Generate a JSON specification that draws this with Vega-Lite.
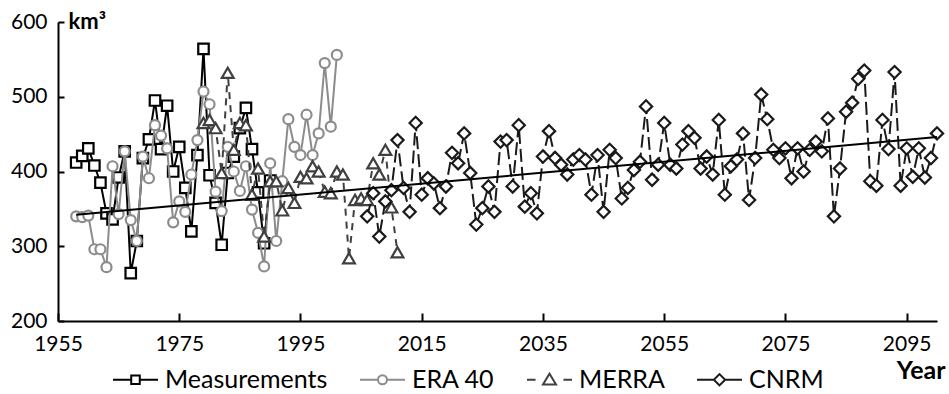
{
"$schema": "https://vega.github.io/schema/vega-lite/v6.json",
"width": 879, "height": 299,
"autosize": {"type": "none"},
"padding": {"left": 58, "top": 22, "right": 12, "bottom": 73},
"background": "white",
"config": {
 "view": {"stroke": null},
 "font": "Lato",
 "axis": {"grid": false, "domainColor": "black", "domainWidth": 2, "tickColor": "black", "tickWidth": 2, "labelColor": "black", "labelFont": "Lato", "labelFontSize": 21, "titleColor": "black", "titleFont": "Lato", "titleFontSize": 22, "titleFontWeight": "bold"}
},
"datasets": {
 "obs": [
  {"series":"Measurements","year":1958,"value":412},{"series":"Measurements","year":1959,"value":421},{"series":"Measurements","year":1960,"value":431},{"series":"Measurements","year":1961,"value":408},{"series":"Measurements","year":1962,"value":385},{"series":"Measurements","year":1963,"value":344},{"series":"Measurements","year":1964,"value":336},{"series":"Measurements","year":1965,"value":392},{"series":"Measurements","year":1966,"value":427},{"series":"Measurements","year":1967,"value":264},{"series":"Measurements","year":1968,"value":307},{"series":"Measurements","year":1969,"value":418},{"series":"Measurements","year":1970,"value":443},{"series":"Measurements","year":1971,"value":495},{"series":"Measurements","year":1972,"value":430},{"series":"Measurements","year":1973,"value":488},{"series":"Measurements","year":1974,"value":400},{"series":"Measurements","year":1975,"value":433},{"series":"Measurements","year":1976,"value":378},{"series":"Measurements","year":1977,"value":320},{"series":"Measurements","year":1978,"value":422},{"series":"Measurements","year":1979,"value":564},{"series":"Measurements","year":1980,"value":395},{"series":"Measurements","year":1981,"value":358},{"series":"Measurements","year":1982,"value":302},{"series":"Measurements","year":1983,"value":398},{"series":"Measurements","year":1984,"value":420},{"series":"Measurements","year":1985,"value":458},{"series":"Measurements","year":1986,"value":485},{"series":"Measurements","year":1987,"value":430},{"series":"Measurements","year":1988,"value":372},{"series":"Measurements","year":1989,"value":304},{"series":"Measurements","year":1990,"value":388},
  {"series":"ERA 40","year":1958,"value":340},{"series":"ERA 40","year":1959,"value":339},{"series":"ERA 40","year":1960,"value":341},{"series":"ERA 40","year":1961,"value":296},{"series":"ERA 40","year":1962,"value":296},{"series":"ERA 40","year":1963,"value":272},{"series":"ERA 40","year":1964,"value":407},{"series":"ERA 40","year":1965,"value":343},{"series":"ERA 40","year":1966,"value":427},{"series":"ERA 40","year":1967,"value":335},{"series":"ERA 40","year":1968,"value":307},{"series":"ERA 40","year":1969,"value":420},{"series":"ERA 40","year":1970,"value":391},{"series":"ERA 40","year":1971,"value":462},{"series":"ERA 40","year":1972,"value":448},{"series":"ERA 40","year":1973,"value":431},{"series":"ERA 40","year":1974,"value":332},{"series":"ERA 40","year":1975,"value":360},{"series":"ERA 40","year":1976,"value":346},{"series":"ERA 40","year":1977,"value":396},{"series":"ERA 40","year":1978,"value":442},{"series":"ERA 40","year":1979,"value":507},{"series":"ERA 40","year":1980,"value":490},{"series":"ERA 40","year":1981,"value":373},{"series":"ERA 40","year":1982,"value":347},{"series":"ERA 40","year":1983,"value":433},{"series":"ERA 40","year":1984,"value":400},{"series":"ERA 40","year":1985,"value":374},{"series":"ERA 40","year":1986,"value":407},{"series":"ERA 40","year":1987,"value":349},{"series":"ERA 40","year":1988,"value":318},{"series":"ERA 40","year":1989,"value":273},{"series":"ERA 40","year":1990,"value":411},{"series":"ERA 40","year":1991,"value":307},{"series":"ERA 40","year":1992,"value":387},{"series":"ERA 40","year":1993,"value":470},{"series":"ERA 40","year":1994,"value":433},{"series":"ERA 40","year":1995,"value":422},{"series":"ERA 40","year":1996,"value":476},{"series":"ERA 40","year":1997,"value":422},{"series":"ERA 40","year":1998,"value":451},{"series":"ERA 40","year":1999,"value":545},{"series":"ERA 40","year":2000,"value":460},{"series":"ERA 40","year":2001,"value":556},
  {"series":"MERRA","year":1979,"value":465},{"series":"MERRA","year":1980,"value":469},{"series":"MERRA","year":1981,"value":458},{"series":"MERRA","year":1982,"value":398},{"series":"MERRA","year":1983,"value":532},{"series":"MERRA","year":1984,"value":429},{"series":"MERRA","year":1985,"value":465},{"series":"MERRA","year":1986,"value":462},{"series":"MERRA","year":1987,"value":369},{"series":"MERRA","year":1988,"value":404},{"series":"MERRA","year":1989,"value":313},{"series":"MERRA","year":1990,"value":387},{"series":"MERRA","year":1991,"value":387},{"series":"MERRA","year":1992,"value":348},{"series":"MERRA","year":1993,"value":378},{"series":"MERRA","year":1994,"value":358},{"series":"MERRA","year":1995,"value":393},{"series":"MERRA","year":1996,"value":391},{"series":"MERRA","year":1997,"value":407},{"series":"MERRA","year":1998,"value":400},{"series":"MERRA","year":1999,"value":373},{"series":"MERRA","year":2000,"value":371},{"series":"MERRA","year":2001,"value":400},{"series":"MERRA","year":2002,"value":396},{"series":"MERRA","year":2003,"value":284},{"series":"MERRA","year":2004,"value":362},{"series":"MERRA","year":2005,"value":364},{"series":"MERRA","year":2006,"value":362},{"series":"MERRA","year":2007,"value":411},{"series":"MERRA","year":2008,"value":396},{"series":"MERRA","year":2009,"value":429},{"series":"MERRA","year":2010,"value":352},{"series":"MERRA","year":2011,"value":292},
  {"series":"CNRM","year":2006,"value":340},{"series":"CNRM","year":2007,"value":371},{"series":"CNRM","year":2008,"value":313},{"series":"CNRM","year":2009,"value":360},{"series":"CNRM","year":2010,"value":375},{"series":"CNRM","year":2011,"value":442},{"series":"CNRM","year":2012,"value":378},{"series":"CNRM","year":2013,"value":346},{"series":"CNRM","year":2014,"value":465},{"series":"CNRM","year":2015,"value":369},{"series":"CNRM","year":2016,"value":391},{"series":"CNRM","year":2017,"value":384},{"series":"CNRM","year":2018,"value":351},{"series":"CNRM","year":2019,"value":380},{"series":"CNRM","year":2020,"value":425},{"series":"CNRM","year":2021,"value":411},{"series":"CNRM","year":2022,"value":451},{"series":"CNRM","year":2023,"value":398},{"series":"CNRM","year":2024,"value":329},{"series":"CNRM","year":2025,"value":351},{"series":"CNRM","year":2026,"value":380},{"series":"CNRM","year":2027,"value":346},{"series":"CNRM","year":2028,"value":440},{"series":"CNRM","year":2029,"value":442},{"series":"CNRM","year":2030,"value":380},{"series":"CNRM","year":2031,"value":462},{"series":"CNRM","year":2032,"value":353},{"series":"CNRM","year":2033,"value":371},{"series":"CNRM","year":2034,"value":344},{"series":"CNRM","year":2035,"value":420},{"series":"CNRM","year":2036,"value":454},{"series":"CNRM","year":2037,"value":418},{"series":"CNRM","year":2038,"value":409},{"series":"CNRM","year":2039,"value":396},{"series":"CNRM","year":2040,"value":416},{"series":"CNRM","year":2041,"value":422},{"series":"CNRM","year":2042,"value":416},{"series":"CNRM","year":2043,"value":369},{"series":"CNRM","year":2044,"value":422},{"series":"CNRM","year":2045,"value":346},{"series":"CNRM","year":2046,"value":429},{"series":"CNRM","year":2047,"value":418},{"series":"CNRM","year":2048,"value":364},{"series":"CNRM","year":2049,"value":378},{"series":"CNRM","year":2050,"value":402},{"series":"CNRM","year":2051,"value":413},{"series":"CNRM","year":2052,"value":487},{"series":"CNRM","year":2053,"value":389},{"series":"CNRM","year":2054,"value":409},{"series":"CNRM","year":2055,"value":465},{"series":"CNRM","year":2056,"value":409},{"series":"CNRM","year":2057,"value":404},{"series":"CNRM","year":2058,"value":436},{"series":"CNRM","year":2059,"value":454},{"series":"CNRM","year":2060,"value":445},{"series":"CNRM","year":2061,"value":404},{"series":"CNRM","year":2062,"value":420},{"series":"CNRM","year":2063,"value":396},{"series":"CNRM","year":2064,"value":469},{"series":"CNRM","year":2065,"value":369},{"series":"CNRM","year":2066,"value":407},{"series":"CNRM","year":2067,"value":416},{"series":"CNRM","year":2068,"value":451},{"series":"CNRM","year":2069,"value":362},{"series":"CNRM","year":2070,"value":418},{"series":"CNRM","year":2071,"value":503},{"series":"CNRM","year":2072,"value":470},{"series":"CNRM","year":2073,"value":429},{"series":"CNRM","year":2074,"value":418},{"series":"CNRM","year":2075,"value":431},{"series":"CNRM","year":2076,"value":391},{"series":"CNRM","year":2077,"value":431},{"series":"CNRM","year":2078,"value":400},{"series":"CNRM","year":2079,"value":429},{"series":"CNRM","year":2080,"value":440},{"series":"CNRM","year":2081,"value":427},{"series":"CNRM","year":2082,"value":471},{"series":"CNRM","year":2083,"value":340},{"series":"CNRM","year":2084,"value":404},{"series":"CNRM","year":2085,"value":480},{"series":"CNRM","year":2086,"value":492},{"series":"CNRM","year":2087,"value":524},{"series":"CNRM","year":2088,"value":535},{"series":"CNRM","year":2089,"value":387},{"series":"CNRM","year":2090,"value":381},{"series":"CNRM","year":2091,"value":469},{"series":"CNRM","year":2092,"value":430},{"series":"CNRM","year":2093,"value":533},{"series":"CNRM","year":2094,"value":381},{"series":"CNRM","year":2095,"value":431},{"series":"CNRM","year":2096,"value":393},{"series":"CNRM","year":2097,"value":431},{"series":"CNRM","year":2098,"value":392},{"series":"CNRM","year":2099,"value":418},{"series":"CNRM","year":2100,"value":451}
 ],
 "trend": [{"year": 1958, "value": 342}, {"year": 2100, "value": 446}]
},
"data": {"name": "obs"},
"encoding": {
 "x": {"field": "year", "type": "quantitative", "scale": {"domain": [1955, 2100], "nice": false, "zero": false},
  "axis": {"values": [1955,1975,1995,2015,2035,2055,2075,2095], "format": "d", "tickSize": -8, "labelPadding": 20, "labelFlush": false, "labelOverlap": false, "title": "Year", "titleFontSize": 25, "titleX": 887, "titleY": 57, "titleAlign": "right", "titleBaseline": "alphabetic"}},
 "y": {"field": "value", "type": "quantitative", "scale": {"domain": [200, 600], "nice": false, "zero": false},
  "axis": {"values": [200,300,400,500,600], "tickSize": -6, "labelPadding": 17, "labelFlush": false, "labelOverlap": false, "title": "km³", "titleAngle": 0, "titleX": 10, "titleY": 6, "titleAlign": "left", "titleBaseline": "alphabetic"}},
 "color": {"field": "series", "type": "nominal",
  "scale": {"domain": ["Measurements", "ERA 40", "MERRA", "CNRM"], "range": ["#000000", "#8c8c8c", "#404040", "#1a1a1a"]},
  "legend": {"title": null, "orient": "none", "legendX": 54, "legendY": 334, "direction": "horizontal", "symbolSize": 2025, "symbolStrokeWidth": 2, "labelFont": "Lato", "labelFontSize": 25, "labelColor": "black", "labelOffset": 6, "columnPadding": 28, "labelLimit": 400,
   "encode": {"symbols": {"update": {
     "shape": {"signal": "datum.value === 'Measurements' ? 'M-1,0H-0.19M0.19,0H1M-0.19,-0.19H0.19V0.19H-0.19Z' : datum.value === 'ERA 40' ? 'M-1,0H-0.2M0.2,0H1M-0.2,0A0.2,0.2 0 1,0 0.2,0A0.2,0.2 0 1,0 -0.2,0Z' : datum.value === 'MERRA' ? 'M-1,0H-0.62M0.62,0H1M0,-0.27L0.29,0.21H-0.29Z' : 'M-1,0H-0.25M0.25,0H1M0,-0.25L0.25,0L0,0.25L-0.25,0Z'"},
     "stroke": {"signal": "datum.value === 'ERA 40' ? '#8c8c8c' : datum.value === 'MERRA' ? '#404040' : '#000000'"},
     "strokeDash": {"value": []},
     "fill": {"value": "white"},
     "fillOpacity": {"value": 1},
     "strokeWidth": {"value": 2},
     "opacity": {"value": 1}
   }}}}
 }
},
"layer": [
 {"transform": [{"filter": "datum.series === 'Measurements'"}], "mark": {"type": "line", "strokeWidth": 2}},
 {"transform": [{"filter": "datum.series === 'Measurements'"}], "mark": {"type": "point", "shape": "square", "size": 110, "filled": false, "fill": "white", "strokeWidth": 2.2, "opacity": 1}},
 {"transform": [{"filter": "datum.series === 'ERA 40'"}], "mark": {"type": "line", "strokeWidth": 2}},
 {"transform": [{"filter": "datum.series === 'ERA 40'"}], "mark": {"type": "point", "shape": "circle", "size": 100, "filled": false, "fill": "white", "strokeWidth": 2.2, "opacity": 1}},
 {"transform": [{"filter": "datum.series === 'MERRA'"}], "mark": {"type": "line", "strokeWidth": 2, "strokeDash": [7, 6]}},
 {"transform": [{"filter": "datum.series === 'MERRA'"}], "mark": {"type": "point", "shape": "triangle-up", "size": 140, "filled": false, "fill": "white", "strokeWidth": 2.2, "opacity": 1}},
 {"transform": [{"filter": "datum.series === 'CNRM'"}], "mark": {"type": "line", "strokeWidth": 2, "strokeDash": [13, 5]}},
 {"transform": [{"filter": "datum.series === 'CNRM'"}], "mark": {"type": "point", "shape": "diamond", "size": 150, "filled": false, "fill": "white", "strokeWidth": 2.2, "opacity": 1}},
 {"data": {"name": "trend"}, "mark": {"type": "line", "strokeWidth": 2}, "encoding": {"color": {"value": "black"}}}
]
}
